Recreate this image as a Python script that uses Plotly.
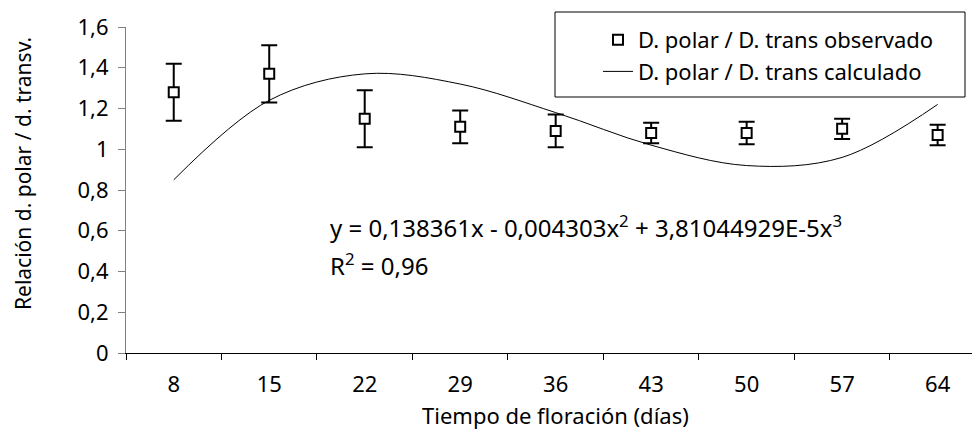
import plotly.graph_objects as go

# Flowering time (days) and polar / transverse diameter ratio
dias = ["8", "15", "22", "29", "36", "43", "50", "57", "64"]
observado = [1.28, 1.37, 1.15, 1.11, 1.09, 1.08, 1.08, 1.10, 1.07]
error_obs = [0.14, 0.14, 0.14, 0.08, 0.08, 0.05, 0.055, 0.05, 0.05]
calculado = [0.85, 1.24, 1.37, 1.32, 1.18, 1.02, 0.92, 0.96, 1.22]

y_ticks = [0, 0.2, 0.4, 0.6, 0.8, 1.0, 1.2, 1.4, 1.6]

FONT = "Noto Sans"
W, H = 972, 436
M_L, M_R, M_T, M_B = 126, 0, 27, 83
plot_w = W - M_L - M_R
plot_h = H - M_T - M_B


def px_x(p):
    return (p - M_L) / plot_w


def px_y(p):
    return (H - M_B - p) / plot_h


fig = go.Figure()

fig.add_trace(go.Scatter(
    x=dias, y=observado, mode="markers",
    name="D. polar / D. trans observado",
    marker=dict(symbol="square", size=10, color="white",
                line=dict(color="black", width=2)),
    error_y=dict(type="data", array=error_obs, visible=True,
                 color="black", thickness=2, width=8),
))

fig.add_trace(go.Scatter(
    x=dias, y=calculado, mode="lines",
    name="D. polar / D. trans calculado",
    line=dict(color="black", width=1, shape="spline", smoothing=1),
))

# legend frame
fig.add_shape(type="rect", xref="paper", yref="paper",
              x0=px_x(555), x1=px_x(965), y0=px_y(97), y1=px_y(12),
              line=dict(color="black", width=1), fillcolor="rgba(0,0,0,0)")

# regression equation
fig.add_annotation(xref="paper", yref="paper", x=px_x(328), y=px_y(226),
                   xanchor="left", yanchor="middle", showarrow=False,
                   text="y = 0,138361x - 0,004303x<sup>2</sup> + 3,81044929E-5x<sup>3</sup>",
                   font=dict(family=FONT, size=24, color="black"))
fig.add_annotation(xref="paper", yref="paper", x=px_x(328), y=px_y(264),
                   xanchor="left", yanchor="middle", showarrow=False,
                   text="R<sup>2</sup> = 0,96",
                   font=dict(family=FONT, size=24, color="black"))

# axis titles
fig.add_annotation(xref="paper", yref="paper", x=px_x(555), y=px_y(415),
                   xanchor="center", yanchor="middle", showarrow=False,
                   text="Tiempo de floración (días)",
                   font=dict(family=FONT, size=22, color="black"))
fig.add_annotation(xref="paper", yref="paper", x=px_x(23), y=px_y(174),
                   xanchor="center", yanchor="middle", showarrow=False,
                   textangle=-90, text="Relación d. polar / d. transv.",
                   font=dict(family=FONT, size=21, color="black"))

fig.update_layout(
    width=W, height=H,
    margin=dict(l=M_L, r=M_R, t=M_T, b=M_B, pad=0),
    paper_bgcolor="white", plot_bgcolor="white",
    separators=",.",
    font=dict(family=FONT, size=22, color="black"),
    showlegend=True,
    legend=dict(x=px_x(598), y=px_y(19), xanchor="left", yanchor="top",
                bgcolor="rgba(0,0,0,0)", borderwidth=0,
                font=dict(family=FONT, size=22, color="black")),
    xaxis=dict(type="category", range=[-0.5, 8.36], tickson="boundaries",
               showline=True, linecolor="black", linewidth=1,
               ticks="outside", ticklen=6, tickcolor="black", tickwidth=1,
               showgrid=False, zeroline=False, ticklabelstandoff=12,
               tickfont=dict(family=FONT, size=22, color="black")),
    yaxis=dict(range=[0, 1.6], tickvals=y_ticks,
               showline=True, linecolor="#808080", linewidth=1,
               ticks="outside", ticklen=7, tickcolor="#808080", tickwidth=1,
               showgrid=False, zeroline=False, ticklabelstandoff=5,
               tickfont=dict(family=FONT, size=22, color="black")),
)

fig.write_html("out.html")
